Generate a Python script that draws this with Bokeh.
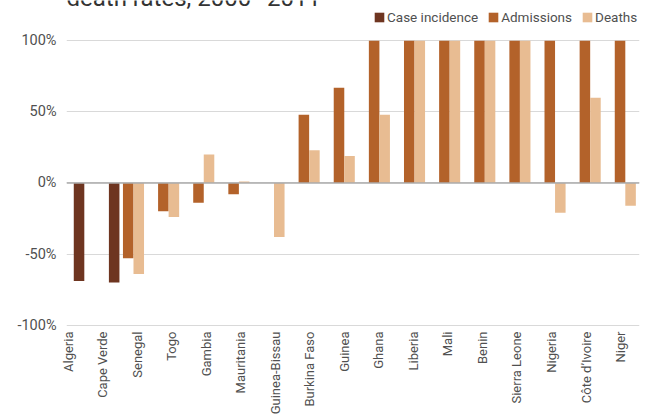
from bokeh.plotting import figure
from bokeh.models import (ColumnDataSource, Range1d, FixedTicker, Span, Legend, Label,
                          LegendItem, CustomJSTickFormatter, PrintfTickFormatter)
from bokeh.transform import dodge
from bokeh.embed import file_html
from bokeh.resources import INLINE

title_text = "death rates, 2000–2011"
countries = ["Algeria", "Cape Verde", "Senegal", "Togo", "Gambia", "Mauritania",
             "Guinea-Bissau", "Burkina Faso", "Guinea", "Ghana", "Liberia", "Mali",
             "Benin", "Sierra Leone", "Nigeria", "Côte d’Ivoire", "Niger"]
case_incidence = [-69, -70, None, None, None, None, None, None, None, None,
                  None, None, None, None, None, None, None]
admissions = [None, None, -53, -20, -14, -8, None, 48, 67, 100, 100, 100,
              100, 100, 100, 100, 100]
deaths = [None, None, -64, -24, 20, 1, -38, 23, 19, 48, 100, 100, 100, 100,
          -21, 60, -16]
y_ticks = [-100, -50, 0, 50, 100]

series_names = ["Case incidence", "Admissions", "Deaths"]
colors = ["#6E3520", "#B3622A", "#E8BC92"]
offsets = [0.3, -0.3, 0.0]

FONT = "Roboto"
TXT = "#505050"

# the frame reaches up to the top edge so the legend and cropped title are not clipped
p = figure(width=650, height=417, output_backend="svg", toolbar_location=None,
           x_range=Range1d(-0.057, 16.254), y_range=Range1d(-101, 128.36))
p.min_border_left = 66
p.min_border_right = 11
p.min_border_top = 0
p.min_border_bottom = 90
p.outline_line_color = None
p.background_fill_color = "white"

renderers = []
for vals, col, off in zip([case_incidence, admissions, deaths], colors, offsets):
    xs = [i for i, v in enumerate(vals) if v is not None]
    tops = [v for v in vals if v is not None]
    src = ColumnDataSource(dict(x=xs, top=tops))
    r = p.vbar(x=dodge("x", off, range=p.x_range), top="top", bottom=0, width=0.3,
               source=src, fill_color=col, line_color=None)
    renderers.append(r)

zero = Span(location=0, dimension="width", line_color="#ababab", line_width=1.5)
p.add_layout(zero)

# title, cropped at the top edge as in the reference
p.add_layout(Label(x=0, y=329, x_units="screen", y_units="screen", text=title_text,
                   text_font=FONT, text_font_size="24px", text_color="#333333",
                   text_baseline="alphabetic", text_align="left"))

# x axis (label positions follow the reference's slightly tighter label spacing)
TICK0, TICKSTEP = -0.0125, 0.983
p.xaxis.ticker = FixedTicker(ticks=[TICK0 + TICKSTEP * i for i in range(len(countries))])
p.xaxis.formatter = CustomJSTickFormatter(
    args=dict(names=countries, t0=TICK0, ts=TICKSTEP),
    code="return names[Math.round((tick - t0) / ts)];")
p.xaxis.major_label_orientation = 1.5707963
p.xaxis.axis_line_color = None
p.xaxis.major_tick_line_color = None
p.xaxis.minor_tick_line_color = None
p.xaxis.major_tick_out = 0
p.xaxis.major_tick_in = 0
p.xaxis.major_label_standoff = 5
p.xaxis.major_label_text_font = FONT
p.xaxis.major_label_text_font_size = "13px"
p.xaxis.major_label_text_color = TXT
p.xgrid.grid_line_color = None

# y axis
p.yaxis.ticker = FixedTicker(ticks=y_ticks)
p.yaxis.formatter = PrintfTickFormatter(format="%d%%")
p.yaxis.axis_line_color = None
p.yaxis.major_tick_line_color = None
p.yaxis.minor_tick_line_color = None
p.yaxis.major_tick_out = 0
p.yaxis.major_tick_in = 0
p.yaxis.major_label_standoff = 10
p.yaxis.major_label_text_font = FONT
p.yaxis.major_label_text_font_size = "14.5px"
p.yaxis.major_label_text_color = TXT
p.ygrid.grid_line_color = "#d9d9d9"
p.ygrid.grid_line_width = 1

legend = Legend(items=[LegendItem(label=n, renderers=[r]) for n, r in zip(series_names, renderers)],
                location=(307, 300), orientation="horizontal",
                glyph_width=12, glyph_height=12, label_standoff=2, spacing=9,
                padding=0, margin=0, label_height=18,
                label_text_font=FONT, label_text_font_size="13.5px", label_text_color=TXT,
                border_line_color=None, background_fill_alpha=0)
p.add_layout(legend, "center")

open("out.html", "w").write(file_html(p, INLINE))
